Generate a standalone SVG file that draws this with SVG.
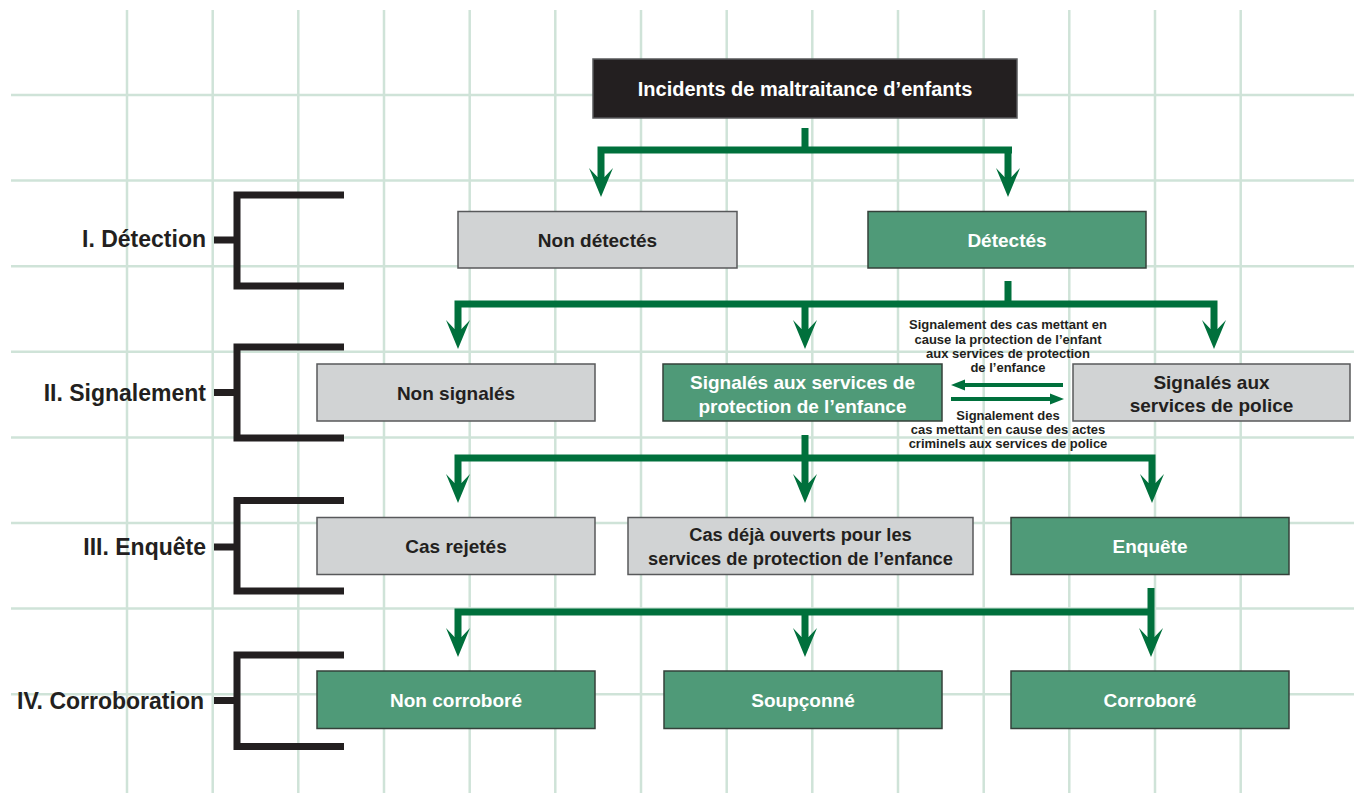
<svg xmlns="http://www.w3.org/2000/svg" width="1354" height="793" viewBox="0 0 1354 793">
<style>
.grid line{stroke:#cfe3d8;stroke-width:2.5}
.br{fill:none;stroke:#231f20;stroke-width:7;stroke-linecap:butt}
.lbl{font-family:"Liberation Sans",Arial,sans-serif;font-weight:bold;font-size:23px;fill:#231f20;text-anchor:end}
.gray{fill:#d1d3d4;stroke:#58595b;stroke-width:1.5}
.green{fill:#4f9a78;stroke:#34413a;stroke-width:1.5}
.black{fill:#231f20;stroke:#58595b;stroke-width:1.5}
.bt{font-family:"Liberation Sans",Arial,sans-serif;font-weight:bold;font-size:19px;text-anchor:middle}
.dk{fill:#231f20}
.wt{fill:#ffffff}
.sm{font-family:"Liberation Sans",Arial,sans-serif;font-weight:bold;font-size:13px;fill:#231f20;text-anchor:middle}
.cn{fill:none;stroke:#00703c;stroke-width:7}
.cn2{fill:none;stroke:#00703c;stroke-width:4}
.ah{fill:#00703c}
</style>
<defs>
<path id="ah" d="M0,0 L-12,-29 L-3.5,-20 L3.5,-20 L12,-29 Z"/>
<path id="al" d="M0,0 L14,-5.5 L14,5.5 Z"/>
<path id="ar" d="M0,0 L-14,-5.5 L-14,5.5 Z"/>
</defs>
<rect width="1354" height="793" fill="#ffffff"/>
<g class="grid">
<line x1="127" y1="10" x2="127" y2="793"/>
<line x1="212.7" y1="10" x2="212.7" y2="793"/>
<line x1="298.3" y1="10" x2="298.3" y2="793"/>
<line x1="384" y1="10" x2="384" y2="793"/>
<line x1="469.7" y1="10" x2="469.7" y2="793"/>
<line x1="555.3" y1="10" x2="555.3" y2="793"/>
<line x1="641" y1="10" x2="641" y2="793"/>
<line x1="726.7" y1="10" x2="726.7" y2="793"/>
<line x1="812.3" y1="10" x2="812.3" y2="793"/>
<line x1="898" y1="10" x2="898" y2="793"/>
<line x1="983.7" y1="10" x2="983.7" y2="793"/>
<line x1="1069.3" y1="10" x2="1069.3" y2="793"/>
<line x1="1155" y1="10" x2="1155" y2="793"/>
<line x1="1240.7" y1="10" x2="1240.7" y2="793"/>
<line x1="11" y1="95" x2="1354" y2="95"/>
<line x1="11" y1="180.6" x2="1354" y2="180.6"/>
<line x1="11" y1="266.2" x2="1354" y2="266.2"/>
<line x1="11" y1="351.8" x2="1354" y2="351.8"/>
<line x1="11" y1="437.4" x2="1354" y2="437.4"/>
<line x1="11" y1="523" x2="1354" y2="523"/>
<line x1="11" y1="608.6" x2="1354" y2="608.6"/>
<line x1="11" y1="694.2" x2="1354" y2="694.2"/>
</g>
<g id="sections">
<g id="sec1">
<path class="br" d="M344,195 H237 V286 H344 M214,240 H237"/>
<text class="lbl" x="206" y="247">I. Détection</text>
</g>
<g id="sec2">
<path class="br" d="M344,347 H237 V438 H344 M214,392.5 H237"/>
<text class="lbl" x="206" y="400.5">II. Signalement</text>
</g>
<g id="sec3">
<path class="br" d="M344,500.5 H237 V591 H344 M214,547 H237"/>
<text class="lbl" x="206" y="555">III. Enquête</text>
</g>
<g id="sec4">
<path class="br" d="M344,655 H237 V746.5 H344 M214,700.5 H237"/>
<text class="lbl" x="204" y="709">IV. Corroboration</text>
</g>
</g>
<g id="connectors">
<path class="cn" d="M805,128 V150 M598,150 H1012 M601,146.5 V178 M1008,146.5 V178"/>
<use href="#ah" class="ah" x="601" y="197"/>
<use href="#ah" class="ah" x="1008" y="197"/>
<path class="cn" d="M1008,281 V304 M455,304 H1217.5 M458,300.5 V330 M805,304 V330 M1214,300.5 V330"/>
<use href="#ah" class="ah" x="458" y="349"/>
<use href="#ah" class="ah" x="805" y="349"/>
<use href="#ah" class="ah" x="1214" y="349"/>
<path class="cn" d="M805,435 V484 M455,458 H1155.5 M458,454.5 V484 M1152,454.5 V484"/>
<use href="#ah" class="ah" x="458" y="503"/>
<use href="#ah" class="ah" x="805" y="503"/>
<use href="#ah" class="ah" x="1152" y="503"/>
<path class="cn" d="M1151,588 V638 M455,612 H1151 M458,608.5 V638 M805,612 V638"/>
<use href="#ah" class="ah" x="458" y="657"/>
<use href="#ah" class="ah" x="805" y="657"/>
<use href="#ah" class="ah" x="1151" y="657"/>
<path class="cn2" d="M1063,385 H962 M951,399 H1052"/>
<use href="#al" class="ah" x="951" y="385"/>
<use href="#ar" class="ah" x="1064" y="399"/>
</g>
<g id="edge-labels">
<text class="sm" x="1008" y="329">Signalement des cas mettant en</text>
<text class="sm" x="1008" y="343.5">cause la protection de l’enfant</text>
<text class="sm" x="1008" y="358">aux services de protection</text>
<text class="sm" x="1008" y="372">de l’enfance</text>
<text class="sm" x="1008" y="420">Signalement des</text>
<text class="sm" x="1008" y="434">cas mettant en cause des actes</text>
<text class="sm" x="1008" y="448">criminels aux services de police</text>
</g>
<g id="n-incidents">
<rect class="black" x="593" y="59" width="424" height="59"/>
<text class="bt wt" x="805" y="96" style="font-size:20px">Incidents de maltraitance d’enfants</text>
</g>
<g id="n-nondetectes">
<rect class="gray" x="458" y="211.5" width="279" height="56.5"/>
<text class="bt dk" x="597.5" y="247">Non détectés</text>
</g>
<g id="n-detectes">
<rect class="green" x="868" y="211.5" width="278" height="56.5"/>
<text class="bt wt" x="1007" y="247">Détectés</text>
</g>
<g id="n-nonsignales">
<rect class="gray" x="317" y="364" width="278" height="57"/>
<text class="bt dk" x="456" y="399.5">Non signalés</text>
</g>
<g id="n-signales-pe">
<rect class="green" x="663" y="364" width="279" height="57"/>
<text class="bt wt" x="802.5" y="389">Signalés aux services de</text>
<text class="bt wt" x="802.5" y="412.5">protection de l’enfance</text>
</g>
<g id="n-signales-police">
<rect class="gray" x="1073" y="364" width="277" height="57"/>
<text class="bt dk" x="1211.5" y="388.5">Signalés aux</text>
<text class="bt dk" x="1211.5" y="412">services de police</text>
</g>
<g id="n-rejetes">
<rect class="gray" x="317" y="517.5" width="278" height="57"/>
<text class="bt dk" x="456" y="553">Cas rejetés</text>
</g>
<g id="n-dejaouverts">
<rect class="gray" x="628" y="517.5" width="345" height="57"/>
<text class="bt dk" x="800.5" y="541" style="font-size:18.3px">Cas déjà ouverts pour les</text>
<text class="bt dk" x="800.5" y="565" style="font-size:18.3px">services de protection de l’enfance</text>
</g>
<g id="n-enquete">
<rect class="green" x="1011" y="517.5" width="278" height="57"/>
<text class="bt wt" x="1150" y="553">Enquête</text>
</g>
<g id="n-noncorrobore">
<rect class="green" x="317" y="671" width="278" height="57.5"/>
<text class="bt wt" x="456" y="707">Non corroboré</text>
</g>
<g id="n-soupconne">
<rect class="green" x="664" y="671" width="278" height="57.5"/>
<text class="bt wt" x="803" y="707">Soupçonné</text>
</g>
<g id="n-corrobore">
<rect class="green" x="1011" y="671" width="278" height="57.5"/>
<text class="bt wt" x="1150" y="707">Corroboré</text>
</g>
</svg>
